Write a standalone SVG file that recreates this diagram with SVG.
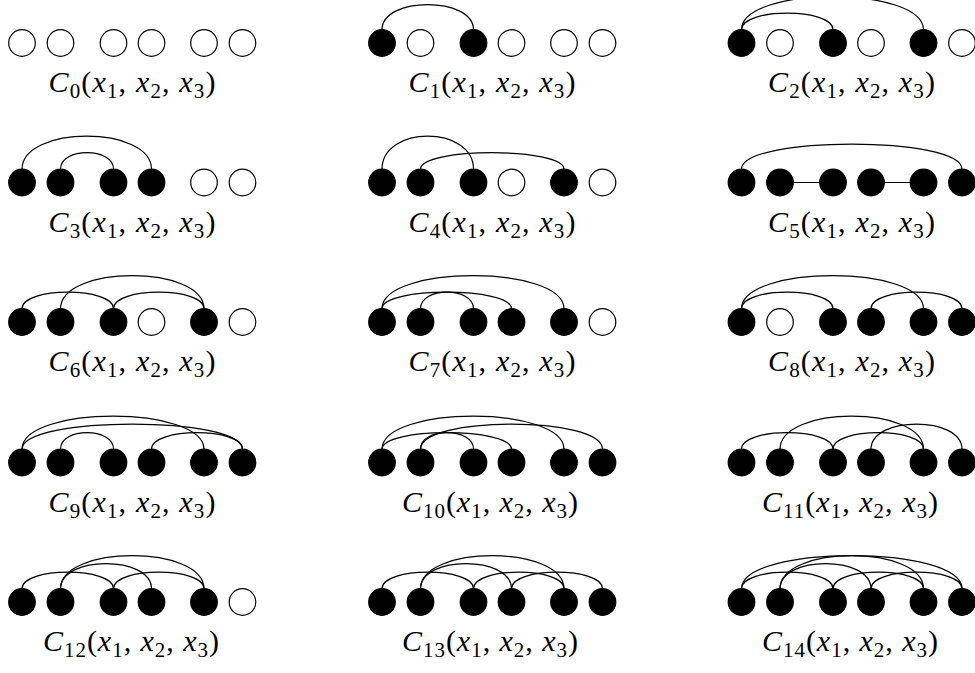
<svg xmlns="http://www.w3.org/2000/svg" width="975" height="673" viewBox="0 0 975 673">
<style>
.f{fill:#000;stroke:#000;stroke-width:1.2}
.o{fill:#fff;stroke:#000;stroke-width:1.2}
.a{fill:none;stroke:#000;stroke-width:1.2}
.lb{font-family:"Liberation Serif",serif;font-size:30px;text-anchor:middle;fill:#000}
.i{font-style:italic}
.s{font-size:21px}
</style>
<rect width="975" height="673" fill="#fff"/>
<g id="connectors">
<path class="a" d="M382 29.7 C382 -3.8 473.5 -3.8 473.5 29.7"/>
<path class="a" d="M741.5 29.7 C741.5 7.7 833 7.7 833 29.7"/>
<path class="a" d="M741.5 29.7 C741.5 -14.3 923.5 -14.3 923.5 29.7"/>
<path class="a" d="M22 169.2 C22 125.2 151.5 125.2 151.5 169.2"/>
<path class="a" d="M60.5 169.2 C60.5 147.2 113.5 147.2 113.5 169.2"/>
<path class="a" d="M382 169.2 C382 125.2 473.5 125.2 473.5 169.2"/>
<path class="a" d="M420.5 169.2 C420.5 147.2 564 147.2 564 169.2"/>
<path class="a" d="M741.5 169.2 C741.5 135.7 962 135.7 962 169.2"/>
<path class="a" d="M780 182.5 H833 M871 182.5 H923.5"/>
<path class="a" d="M22 308.7 C22 286.7 113.5 286.7 113.5 308.7"/>
<path class="a" d="M60.5 308.7 C60.5 264.7 204 264.7 204 308.7"/>
<path class="a" d="M113.5 308.7 C113.5 286.7 204 286.7 204 308.7"/>
<path class="a" d="M382 308.7 C382 264.7 564 264.7 564 308.7"/>
<path class="a" d="M382 308.7 C382 286.7 511.5 286.7 511.5 308.7"/>
<path class="a" d="M420.5 308.7 C420.5 286.7 473.5 286.7 473.5 308.7"/>
<path class="a" d="M741.5 308.7 C741.5 264.7 923.5 264.7 923.5 308.7"/>
<path class="a" d="M741.5 308.7 C741.5 286.7 833 286.7 833 308.7"/>
<path class="a" d="M871 308.7 C871 286.7 962 286.7 962 308.7"/>
<path class="a" d="M22 449.2 C22 405.2 204 405.2 204 449.2"/>
<path class="a" d="M22 449.2 C22 415.7 242.5 415.7 242.5 449.2"/>
<path class="a" d="M60.5 449.2 C60.5 427.2 113.5 427.2 113.5 449.2"/>
<path class="a" d="M151.5 449.2 C151.5 427.2 242.5 427.2 242.5 449.2"/>
<path class="a" d="M382 449.2 C382 405.2 564 405.2 564 449.2"/>
<path class="a" d="M382 449.2 C382 427.2 511.5 427.2 511.5 449.2"/>
<path class="a" d="M420.5 449.2 C420.5 427.2 473.5 427.2 473.5 449.2"/>
<path class="a" d="M420.5 449.2 C420.5 415.7 602.5 415.7 602.5 449.2"/>
<path class="a" d="M741.5 449.2 C741.5 427.2 833 427.2 833 449.2"/>
<path class="a" d="M780 449.2 C780 405.2 923.5 405.2 923.5 449.2"/>
<path class="a" d="M833 449.2 C833 427.2 923.5 427.2 923.5 449.2"/>
<path class="a" d="M871 449.2 C871 415.7 962 415.7 962 449.2"/>
<path class="a" d="M22 588.7 C22 566.7 113.5 566.7 113.5 588.7"/>
<path class="a" d="M60.5 588.7 C60.5 544.7 204 544.7 204 588.7"/>
<path class="a" d="M60.5 588.7 C60.5 555.2 151.5 555.2 151.5 588.7"/>
<path class="a" d="M113.5 588.7 C113.5 566.7 204 566.7 204 588.7"/>
<path class="a" d="M382 588.7 C382 566.7 473.5 566.7 473.5 588.7"/>
<path class="a" d="M420.5 588.7 C420.5 544.7 564 544.7 564 588.7"/>
<path class="a" d="M420.5 588.7 C420.5 555.2 511.5 555.2 511.5 588.7"/>
<path class="a" d="M473.5 588.7 C473.5 566.7 564 566.7 564 588.7"/>
<path class="a" d="M511.5 588.7 C511.5 566.7 602.5 566.7 602.5 588.7"/>
<path class="a" d="M741.5 588.7 C741.5 544.7 962 544.7 962 588.7"/>
<path class="a" d="M741.5 588.7 C741.5 566.7 833 566.7 833 588.7"/>
<path class="a" d="M780 588.7 C780 544.7 923.5 544.7 923.5 588.7"/>
<path class="a" d="M780 588.7 C780 555.2 871 555.2 871 588.7"/>
<path class="a" d="M833 588.7 C833 566.7 923.5 566.7 923.5 588.7"/>
<path class="a" d="M871 588.7 C871 566.7 962 566.7 962 588.7"/>
</g>
<g id="C0">
<g id="C0-n1"><circle class="o" cx="22" cy="43" r="13.3"/></g>
<g id="C0-n2"><circle class="o" cx="60.5" cy="43" r="13.3"/></g>
<g id="C0-n3"><circle class="o" cx="113.5" cy="43" r="13.3"/></g>
<g id="C0-n4"><circle class="o" cx="151.5" cy="43" r="13.3"/></g>
<g id="C0-n5"><circle class="o" cx="204" cy="43" r="13.3"/></g>
<g id="C0-n6"><circle class="o" cx="242.5" cy="43" r="13.3"/></g>
<g id="C0-label"><text class="lb" x="132" y="92" textLength="167"><tspan class="i">C</tspan><tspan class="s" dy="6">0</tspan><tspan dy="-6">(</tspan><tspan class="i">x</tspan><tspan class="s" dy="6">1</tspan><tspan dy="-6">, </tspan><tspan class="i">x</tspan><tspan class="s" dy="6">2</tspan><tspan dy="-6">, </tspan><tspan class="i">x</tspan><tspan class="s" dy="6">3</tspan><tspan dy="-6">)</tspan></text></g>
</g>
<g id="C1">
<g id="C1-n1"><circle class="f" cx="382" cy="43" r="13.3"/></g>
<g id="C1-n2"><circle class="o" cx="420.5" cy="43" r="13.3"/></g>
<g id="C1-n3"><circle class="f" cx="473.5" cy="43" r="13.3"/></g>
<g id="C1-n4"><circle class="o" cx="511.5" cy="43" r="13.3"/></g>
<g id="C1-n5"><circle class="o" cx="564" cy="43" r="13.3"/></g>
<g id="C1-n6"><circle class="o" cx="602.5" cy="43" r="13.3"/></g>
<g id="C1-label"><text class="lb" x="492" y="92" textLength="167"><tspan class="i">C</tspan><tspan class="s" dy="6">1</tspan><tspan dy="-6">(</tspan><tspan class="i">x</tspan><tspan class="s" dy="6">1</tspan><tspan dy="-6">, </tspan><tspan class="i">x</tspan><tspan class="s" dy="6">2</tspan><tspan dy="-6">, </tspan><tspan class="i">x</tspan><tspan class="s" dy="6">3</tspan><tspan dy="-6">)</tspan></text></g>
</g>
<g id="C2">
<g id="C2-n1"><circle class="f" cx="741.5" cy="43" r="13.3"/></g>
<g id="C2-n2"><circle class="o" cx="780" cy="43" r="13.3"/></g>
<g id="C2-n3"><circle class="f" cx="833" cy="43" r="13.3"/></g>
<g id="C2-n4"><circle class="o" cx="871" cy="43" r="13.3"/></g>
<g id="C2-n5"><circle class="f" cx="923.5" cy="43" r="13.3"/></g>
<g id="C2-n6"><circle class="o" cx="962" cy="43" r="13.3"/></g>
<g id="C2-label"><text class="lb" x="851.5" y="92" textLength="167"><tspan class="i">C</tspan><tspan class="s" dy="6">2</tspan><tspan dy="-6">(</tspan><tspan class="i">x</tspan><tspan class="s" dy="6">1</tspan><tspan dy="-6">, </tspan><tspan class="i">x</tspan><tspan class="s" dy="6">2</tspan><tspan dy="-6">, </tspan><tspan class="i">x</tspan><tspan class="s" dy="6">3</tspan><tspan dy="-6">)</tspan></text></g>
</g>
<g id="C3">
<g id="C3-n1"><circle class="f" cx="22" cy="182.5" r="13.3"/></g>
<g id="C3-n2"><circle class="f" cx="60.5" cy="182.5" r="13.3"/></g>
<g id="C3-n3"><circle class="f" cx="113.5" cy="182.5" r="13.3"/></g>
<g id="C3-n4"><circle class="f" cx="151.5" cy="182.5" r="13.3"/></g>
<g id="C3-n5"><circle class="o" cx="204" cy="182.5" r="13.3"/></g>
<g id="C3-n6"><circle class="o" cx="242.5" cy="182.5" r="13.3"/></g>
<g id="C3-label"><text class="lb" x="132" y="231.5" textLength="167"><tspan class="i">C</tspan><tspan class="s" dy="6">3</tspan><tspan dy="-6">(</tspan><tspan class="i">x</tspan><tspan class="s" dy="6">1</tspan><tspan dy="-6">, </tspan><tspan class="i">x</tspan><tspan class="s" dy="6">2</tspan><tspan dy="-6">, </tspan><tspan class="i">x</tspan><tspan class="s" dy="6">3</tspan><tspan dy="-6">)</tspan></text></g>
</g>
<g id="C4">
<g id="C4-n1"><circle class="f" cx="382" cy="182.5" r="13.3"/></g>
<g id="C4-n2"><circle class="f" cx="420.5" cy="182.5" r="13.3"/></g>
<g id="C4-n3"><circle class="f" cx="473.5" cy="182.5" r="13.3"/></g>
<g id="C4-n4"><circle class="o" cx="511.5" cy="182.5" r="13.3"/></g>
<g id="C4-n5"><circle class="f" cx="564" cy="182.5" r="13.3"/></g>
<g id="C4-n6"><circle class="o" cx="602.5" cy="182.5" r="13.3"/></g>
<g id="C4-label"><text class="lb" x="492" y="231.5" textLength="167"><tspan class="i">C</tspan><tspan class="s" dy="6">4</tspan><tspan dy="-6">(</tspan><tspan class="i">x</tspan><tspan class="s" dy="6">1</tspan><tspan dy="-6">, </tspan><tspan class="i">x</tspan><tspan class="s" dy="6">2</tspan><tspan dy="-6">, </tspan><tspan class="i">x</tspan><tspan class="s" dy="6">3</tspan><tspan dy="-6">)</tspan></text></g>
</g>
<g id="C5">
<g id="C5-n1"><circle class="f" cx="741.5" cy="182.5" r="13.3"/></g>
<g id="C5-n2"><circle class="f" cx="780" cy="182.5" r="13.3"/></g>
<g id="C5-n3"><circle class="f" cx="833" cy="182.5" r="13.3"/></g>
<g id="C5-n4"><circle class="f" cx="871" cy="182.5" r="13.3"/></g>
<g id="C5-n5"><circle class="f" cx="923.5" cy="182.5" r="13.3"/></g>
<g id="C5-n6"><circle class="f" cx="962" cy="182.5" r="13.3"/></g>
<g id="C5-label"><text class="lb" x="851.5" y="231.5" textLength="167"><tspan class="i">C</tspan><tspan class="s" dy="6">5</tspan><tspan dy="-6">(</tspan><tspan class="i">x</tspan><tspan class="s" dy="6">1</tspan><tspan dy="-6">, </tspan><tspan class="i">x</tspan><tspan class="s" dy="6">2</tspan><tspan dy="-6">, </tspan><tspan class="i">x</tspan><tspan class="s" dy="6">3</tspan><tspan dy="-6">)</tspan></text></g>
</g>
<g id="C6">
<g id="C6-n1"><circle class="f" cx="22" cy="322" r="13.3"/></g>
<g id="C6-n2"><circle class="f" cx="60.5" cy="322" r="13.3"/></g>
<g id="C6-n3"><circle class="f" cx="113.5" cy="322" r="13.3"/></g>
<g id="C6-n4"><circle class="o" cx="151.5" cy="322" r="13.3"/></g>
<g id="C6-n5"><circle class="f" cx="204" cy="322" r="13.3"/></g>
<g id="C6-n6"><circle class="o" cx="242.5" cy="322" r="13.3"/></g>
<g id="C6-label"><text class="lb" x="132" y="371" textLength="167"><tspan class="i">C</tspan><tspan class="s" dy="6">6</tspan><tspan dy="-6">(</tspan><tspan class="i">x</tspan><tspan class="s" dy="6">1</tspan><tspan dy="-6">, </tspan><tspan class="i">x</tspan><tspan class="s" dy="6">2</tspan><tspan dy="-6">, </tspan><tspan class="i">x</tspan><tspan class="s" dy="6">3</tspan><tspan dy="-6">)</tspan></text></g>
</g>
<g id="C7">
<g id="C7-n1"><circle class="f" cx="382" cy="322" r="13.3"/></g>
<g id="C7-n2"><circle class="f" cx="420.5" cy="322" r="13.3"/></g>
<g id="C7-n3"><circle class="f" cx="473.5" cy="322" r="13.3"/></g>
<g id="C7-n4"><circle class="f" cx="511.5" cy="322" r="13.3"/></g>
<g id="C7-n5"><circle class="f" cx="564" cy="322" r="13.3"/></g>
<g id="C7-n6"><circle class="o" cx="602.5" cy="322" r="13.3"/></g>
<g id="C7-label"><text class="lb" x="492" y="371" textLength="167"><tspan class="i">C</tspan><tspan class="s" dy="6">7</tspan><tspan dy="-6">(</tspan><tspan class="i">x</tspan><tspan class="s" dy="6">1</tspan><tspan dy="-6">, </tspan><tspan class="i">x</tspan><tspan class="s" dy="6">2</tspan><tspan dy="-6">, </tspan><tspan class="i">x</tspan><tspan class="s" dy="6">3</tspan><tspan dy="-6">)</tspan></text></g>
</g>
<g id="C8">
<g id="C8-n1"><circle class="f" cx="741.5" cy="322" r="13.3"/></g>
<g id="C8-n2"><circle class="o" cx="780" cy="322" r="13.3"/></g>
<g id="C8-n3"><circle class="f" cx="833" cy="322" r="13.3"/></g>
<g id="C8-n4"><circle class="f" cx="871" cy="322" r="13.3"/></g>
<g id="C8-n5"><circle class="f" cx="923.5" cy="322" r="13.3"/></g>
<g id="C8-n6"><circle class="f" cx="962" cy="322" r="13.3"/></g>
<g id="C8-label"><text class="lb" x="851.5" y="371" textLength="167"><tspan class="i">C</tspan><tspan class="s" dy="6">8</tspan><tspan dy="-6">(</tspan><tspan class="i">x</tspan><tspan class="s" dy="6">1</tspan><tspan dy="-6">, </tspan><tspan class="i">x</tspan><tspan class="s" dy="6">2</tspan><tspan dy="-6">, </tspan><tspan class="i">x</tspan><tspan class="s" dy="6">3</tspan><tspan dy="-6">)</tspan></text></g>
</g>
<g id="C9">
<g id="C9-n1"><circle class="f" cx="22" cy="462.5" r="13.3"/></g>
<g id="C9-n2"><circle class="f" cx="60.5" cy="462.5" r="13.3"/></g>
<g id="C9-n3"><circle class="f" cx="113.5" cy="462.5" r="13.3"/></g>
<g id="C9-n4"><circle class="f" cx="151.5" cy="462.5" r="13.3"/></g>
<g id="C9-n5"><circle class="f" cx="204" cy="462.5" r="13.3"/></g>
<g id="C9-n6"><circle class="f" cx="242.5" cy="462.5" r="13.3"/></g>
<g id="C9-label"><text class="lb" x="132" y="511.5" textLength="167"><tspan class="i">C</tspan><tspan class="s" dy="6">9</tspan><tspan dy="-6">(</tspan><tspan class="i">x</tspan><tspan class="s" dy="6">1</tspan><tspan dy="-6">, </tspan><tspan class="i">x</tspan><tspan class="s" dy="6">2</tspan><tspan dy="-6">, </tspan><tspan class="i">x</tspan><tspan class="s" dy="6">3</tspan><tspan dy="-6">)</tspan></text></g>
</g>
<g id="C10">
<g id="C10-n1"><circle class="f" cx="382" cy="462.5" r="13.3"/></g>
<g id="C10-n2"><circle class="f" cx="420.5" cy="462.5" r="13.3"/></g>
<g id="C10-n3"><circle class="f" cx="473.5" cy="462.5" r="13.3"/></g>
<g id="C10-n4"><circle class="f" cx="511.5" cy="462.5" r="13.3"/></g>
<g id="C10-n5"><circle class="f" cx="564" cy="462.5" r="13.3"/></g>
<g id="C10-n6"><circle class="f" cx="602.5" cy="462.5" r="13.3"/></g>
<g id="C10-label"><text class="lb" x="490" y="511.5" textLength="176"><tspan class="i">C</tspan><tspan class="s" dy="6">10</tspan><tspan dy="-6">(</tspan><tspan class="i">x</tspan><tspan class="s" dy="6">1</tspan><tspan dy="-6">, </tspan><tspan class="i">x</tspan><tspan class="s" dy="6">2</tspan><tspan dy="-6">, </tspan><tspan class="i">x</tspan><tspan class="s" dy="6">3</tspan><tspan dy="-6">)</tspan></text></g>
</g>
<g id="C11">
<g id="C11-n1"><circle class="f" cx="741.5" cy="462.5" r="13.3"/></g>
<g id="C11-n2"><circle class="f" cx="780" cy="462.5" r="13.3"/></g>
<g id="C11-n3"><circle class="f" cx="833" cy="462.5" r="13.3"/></g>
<g id="C11-n4"><circle class="f" cx="871" cy="462.5" r="13.3"/></g>
<g id="C11-n5"><circle class="f" cx="923.5" cy="462.5" r="13.3"/></g>
<g id="C11-n6"><circle class="f" cx="962" cy="462.5" r="13.3"/></g>
<g id="C11-label"><text class="lb" x="850" y="511.5" textLength="176"><tspan class="i">C</tspan><tspan class="s" dy="6">11</tspan><tspan dy="-6">(</tspan><tspan class="i">x</tspan><tspan class="s" dy="6">1</tspan><tspan dy="-6">, </tspan><tspan class="i">x</tspan><tspan class="s" dy="6">2</tspan><tspan dy="-6">, </tspan><tspan class="i">x</tspan><tspan class="s" dy="6">3</tspan><tspan dy="-6">)</tspan></text></g>
</g>
<g id="C12">
<g id="C12-n1"><circle class="f" cx="22" cy="602" r="13.3"/></g>
<g id="C12-n2"><circle class="f" cx="60.5" cy="602" r="13.3"/></g>
<g id="C12-n3"><circle class="f" cx="113.5" cy="602" r="13.3"/></g>
<g id="C12-n4"><circle class="f" cx="151.5" cy="602" r="13.3"/></g>
<g id="C12-n5"><circle class="f" cx="204" cy="602" r="13.3"/></g>
<g id="C12-n6"><circle class="o" cx="242.5" cy="602" r="13.3"/></g>
<g id="C12-label"><text class="lb" x="131" y="651" textLength="176"><tspan class="i">C</tspan><tspan class="s" dy="6">12</tspan><tspan dy="-6">(</tspan><tspan class="i">x</tspan><tspan class="s" dy="6">1</tspan><tspan dy="-6">, </tspan><tspan class="i">x</tspan><tspan class="s" dy="6">2</tspan><tspan dy="-6">, </tspan><tspan class="i">x</tspan><tspan class="s" dy="6">3</tspan><tspan dy="-6">)</tspan></text></g>
</g>
<g id="C13">
<g id="C13-n1"><circle class="f" cx="382" cy="602" r="13.3"/></g>
<g id="C13-n2"><circle class="f" cx="420.5" cy="602" r="13.3"/></g>
<g id="C13-n3"><circle class="f" cx="473.5" cy="602" r="13.3"/></g>
<g id="C13-n4"><circle class="f" cx="511.5" cy="602" r="13.3"/></g>
<g id="C13-n5"><circle class="f" cx="564" cy="602" r="13.3"/></g>
<g id="C13-n6"><circle class="f" cx="602.5" cy="602" r="13.3"/></g>
<g id="C13-label"><text class="lb" x="490" y="651" textLength="176"><tspan class="i">C</tspan><tspan class="s" dy="6">13</tspan><tspan dy="-6">(</tspan><tspan class="i">x</tspan><tspan class="s" dy="6">1</tspan><tspan dy="-6">, </tspan><tspan class="i">x</tspan><tspan class="s" dy="6">2</tspan><tspan dy="-6">, </tspan><tspan class="i">x</tspan><tspan class="s" dy="6">3</tspan><tspan dy="-6">)</tspan></text></g>
</g>
<g id="C14">
<g id="C14-n1"><circle class="f" cx="741.5" cy="602" r="13.3"/></g>
<g id="C14-n2"><circle class="f" cx="780" cy="602" r="13.3"/></g>
<g id="C14-n3"><circle class="f" cx="833" cy="602" r="13.3"/></g>
<g id="C14-n4"><circle class="f" cx="871" cy="602" r="13.3"/></g>
<g id="C14-n5"><circle class="f" cx="923.5" cy="602" r="13.3"/></g>
<g id="C14-n6"><circle class="f" cx="962" cy="602" r="13.3"/></g>
<g id="C14-label"><text class="lb" x="850" y="651" textLength="176"><tspan class="i">C</tspan><tspan class="s" dy="6">14</tspan><tspan dy="-6">(</tspan><tspan class="i">x</tspan><tspan class="s" dy="6">1</tspan><tspan dy="-6">, </tspan><tspan class="i">x</tspan><tspan class="s" dy="6">2</tspan><tspan dy="-6">, </tspan><tspan class="i">x</tspan><tspan class="s" dy="6">3</tspan><tspan dy="-6">)</tspan></text></g>
</g>
</svg>
